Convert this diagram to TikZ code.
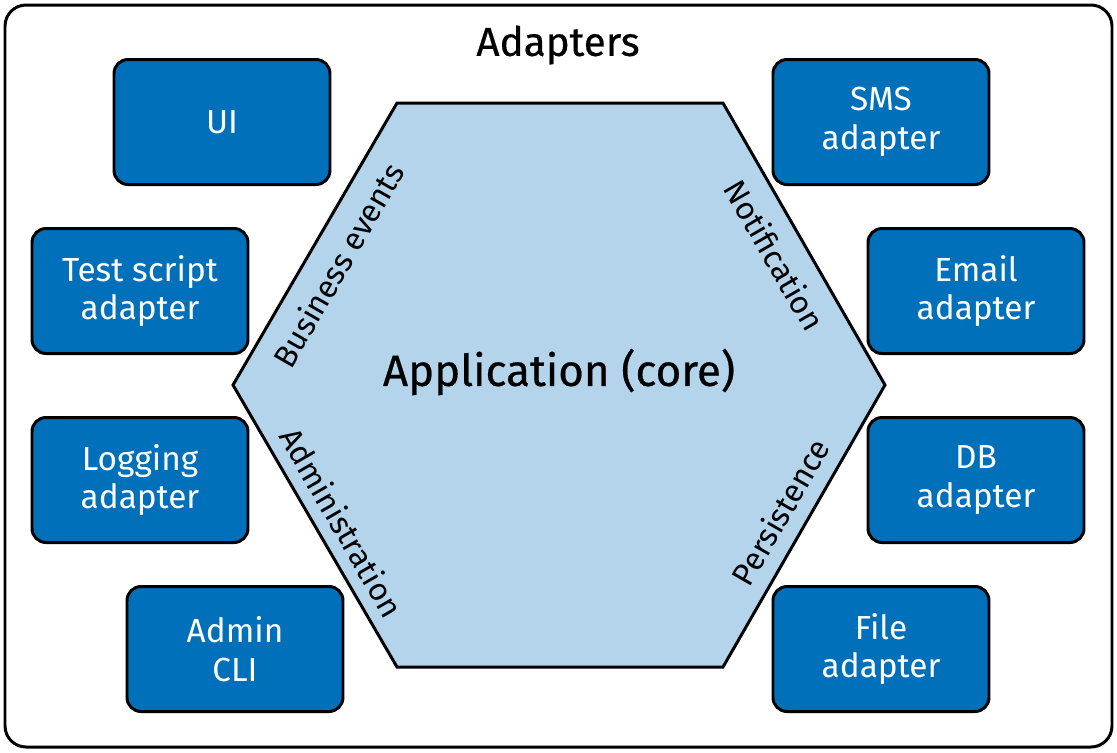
\documentclass[tikz,border=0pt]{standalone}
\usepackage{fontspec}
\setmainfont{Fira Sans}
\definecolor{adblue}{HTML}{0070BA}
\definecolor{coreblue}{HTML}{B3D4EA}
\begin{document}
\begin{tikzpicture}[x=0.02cm, y=-0.02cm]
  \tikzset{adapter/.style = {rectangle, draw, line width=1.7pt, fill=adblue, text=white, rounded corners=8pt,
      minimum width=216*0.02cm, minimum height=125*0.02cm, align=center, font=\fontsize{19}{22}\selectfont},
    side/.style = {font=\fontsize{18}{20}\selectfont}}

  \useasboundingbox (0,0) rectangle (1117,752);
  \draw[line width=1.7pt, rounded corners=12pt] (5,5) rectangle (1112,747);
  \node[font=\fontsize{23}{26}\selectfont\addfontfeature{FakeBold=0.5}] (title) at (558,45) {Adapters};

  % hexagon core
  \draw[line width=1.7pt, fill=coreblue] (233,385) -- (397,103) -- (723,103) -- (885,385)
    -- (723,667) -- (397,667) -- cycle;
  \node[font=\fontsize{25}{28}\selectfont\addfontfeature{FakeBold=0.5}] (core) at (559,372) {Application (core)};

  \node[side, rotate=60] (business) at (338,265) {Business events};
  \node[side, rotate=-60] (notify) at (775,255) {Notification};
  \node[side, rotate=-60] (admin) at (342,522) {Administration};
  \node[side, rotate=60] (persist) at (780,512) {Persistence};

  \node[adapter] (ui) at (222,122) {UI};
  \node[adapter] (sms) at (881,122) {SMS\\adapter};
  \node[adapter] (test) at (140,291) {Test script\\adapter};
  \node[adapter] (email) at (976,291) {Email\\adapter};
  \node[adapter] (logging) at (140,480) {Logging\\adapter};
  \node[adapter] (db) at (976,480) {DB\\adapter};
  \node[adapter] (cli) at (235,649) {Admin\\CLI};
  \node[adapter] (file) at (881,649) {File\\adapter};
\end{tikzpicture}
\end{document}
